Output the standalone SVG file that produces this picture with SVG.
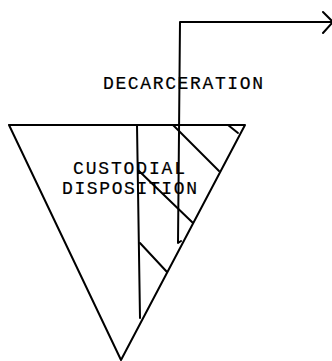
<svg xmlns="http://www.w3.org/2000/svg" width="332" height="361" viewBox="0 0 332 361">
<style>
.ln{fill:none;stroke:#000;stroke-width:2;stroke-linecap:round;stroke-linejoin:round}
.tx{font-family:"Liberation Mono","Courier New",monospace;font-size:18px;fill:#000;stroke:#000;stroke-width:0.2}
</style>
<rect width="332" height="361" fill="#fff"/>
<g id="funnel">
<path class="ln" d="M9,125 L245,125 L121,360 Z"/>
</g>
<g id="hatching">
<line class="ln" x1="137" y1="125" x2="140" y2="318"/>
<line class="ln" x1="173" y1="125" x2="219" y2="171"/>
<line class="ln" x1="228" y1="125" x2="238" y2="133"/>
<line class="ln" x1="138" y1="170" x2="193" y2="223"/>
<line class="ln" x1="140" y1="243" x2="167" y2="272"/>
</g>
<g id="custodial">
<text class="tx" x="73" y="174" textLength="112" lengthAdjust="spacing">CUSTODIAL</text>
<text class="tx" x="62" y="194" textLength="135" lengthAdjust="spacing">DISPOSITION</text>
</g>
<g id="decarceration">
<text class="tx" x="103" y="89" textLength="160" lengthAdjust="spacing">DECARCERATION</text>
</g>
<g id="connectors">
<path class="ln" d="M181,241 L178,243 L180,22 L333,22"/>
<path class="ln" d="M323,12 L333,22 L323,33"/>
</g>
</svg>
